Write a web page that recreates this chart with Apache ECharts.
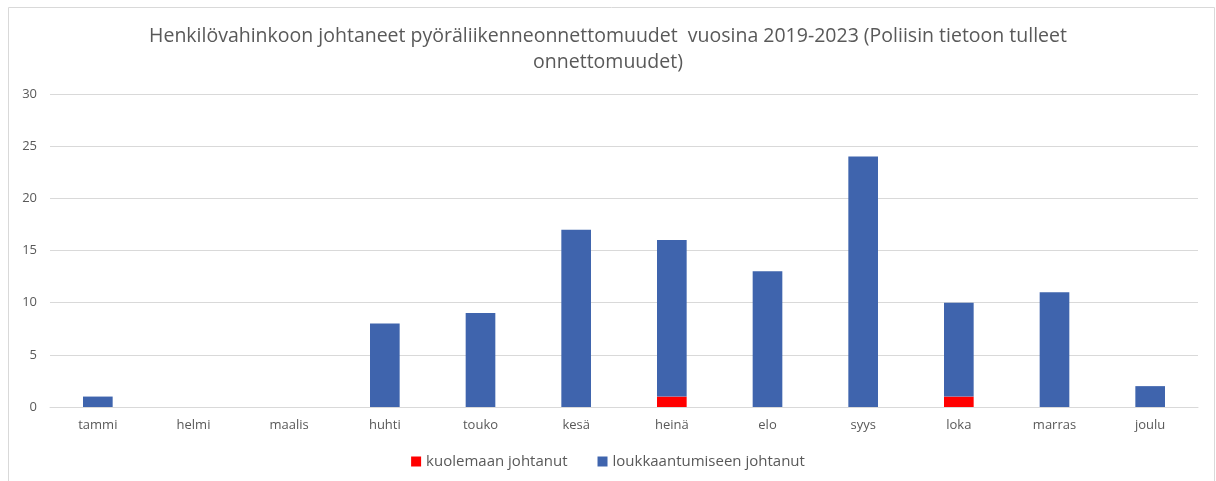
<!DOCTYPE html>
<html>
<head>
<meta charset="utf-8">
<script src="https://cdn.jsdelivr.net/npm/echarts@6/dist/echarts.min.js"></script>
<style>
  html, body { margin: 0; padding: 0; background: #fff; }
  #chart { width: 1216px; height: 481px; }
</style>
</head>
<body>
<div id="chart"></div>
<script>
// kuukaudet
const months = ['tammi', 'helmi', 'maalis', 'huhti', 'touko', 'kesä', 'heinä', 'elo', 'syys', 'loka', 'marras', 'joulu'];
// kuolemaan johtaneet
const deaths = [0, 0, 0, 0, 0, 0, 1, 0, 0, 1, 0, 0];
// loukkaantumiseen johtaneet
const injuries = [1, 0, 0, 8, 9, 17, 15, 13, 24, 9, 11, 2];
const yTicks = [0, 5, 10, 15, 20, 25, 30];

const textColor = '#595959';
const chart = echarts.init(document.getElementById('chart'));

const option = {
  animation: false,
  textStyle: { fontFamily: 'Open Sans' },
  title: {
    text: 'Henkilövahinkoon johtaneet pyöräliikenneonnettomuudet  vuosina 2019-2023 (Poliisin tietoon tulleet\nonnettomuudet)',
    left: 'center',
    top: 18,
    textStyle: {
      color: textColor,
      fontSize: 19.5,
      fontWeight: 'normal',
      lineHeight: 26,
      align: 'center'
    }
  },
  // kehys
  graphic: [{
    type: 'rect',
    shape: { x: 8.5, y: 7.5, width: 1206, height: 480 },
    style: { fill: 'none', stroke: '#d9d9d9', lineWidth: 1 },
    silent: true
  }],
  legend: {
    bottom: 7,
    left: 'center',
    itemWidth: 10,
    itemHeight: 10,
    itemGap: 30,
    icon: 'rect',
    textStyle: { color: textColor, fontSize: 15 },
    data: ['kuolemaan johtanut', 'loukkaantumiseen johtanut']
  },
  grid: {
    left: 50,
    right: 18,
    top: 94,
    bottom: 74
  },
  xAxis: {
    type: 'category',
    data: months,
    axisTick: { show: false },
    axisLine: { lineStyle: { color: '#d9d9d9' } },
    axisLabel: { color: textColor, fontSize: 13, margin: 12 }
  },
  yAxis: {
    type: 'value',
    min: yTicks[0],
    max: yTicks[yTicks.length - 1],
    interval: 5,
    axisLine: { show: false },
    axisTick: { show: false },
    axisLabel: { color: textColor, fontSize: 13, margin: 13 },
    splitLine: { lineStyle: { color: '#d9d9d9' } }
  },
  series: [
    {
      name: 'kuolemaan johtanut',
      type: 'bar',
      stack: 'total',
      barWidth: '31%',
      itemStyle: { color: '#ff0000' },
      data: deaths
    },
    {
      name: 'loukkaantumiseen johtanut',
      type: 'bar',
      stack: 'total',
      barWidth: '31%',
      itemStyle: { color: '#3f64ad' },
      data: injuries
    }
  ]
};

chart.setOption(option);
</script>
</body>
</html>
